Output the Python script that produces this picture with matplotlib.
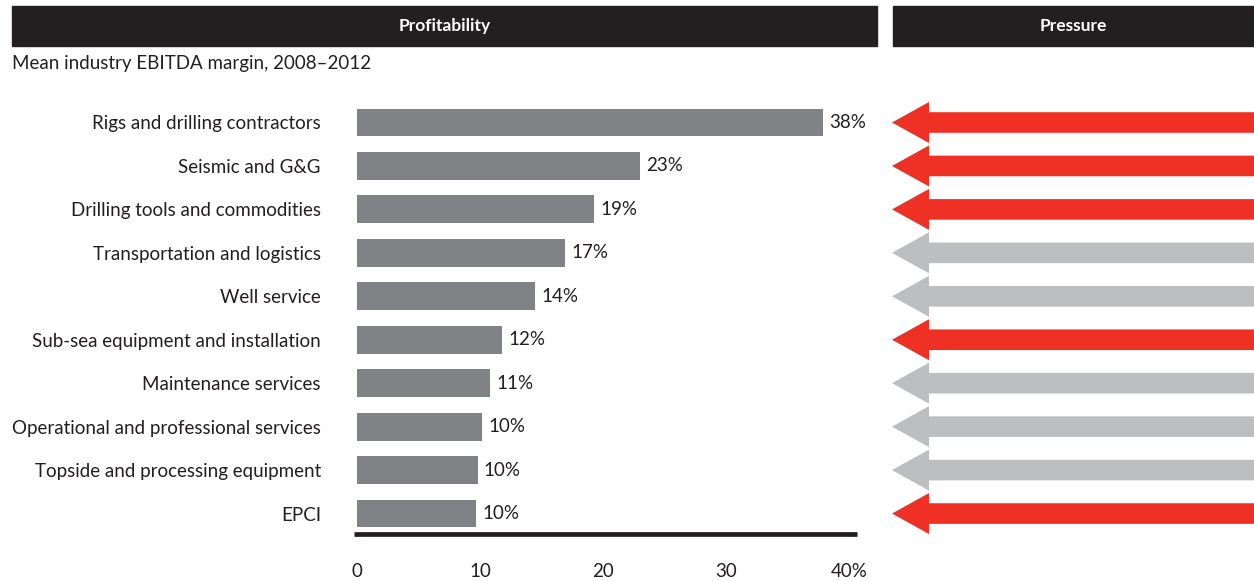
import matplotlib
matplotlib.use("Agg")
import matplotlib.pyplot as plt
from matplotlib.patches import Polygon, Rectangle

# ---- data ----
categories = [
    "Rigs and drilling contractors",
    "Seismic and G&G",
    "Drilling tools and commodities",
    "Transportation and logistics",
    "Well service",
    "Sub-sea equipment and installation",
    "Maintenance services",
    "Operational and professional services",
    "Topside and processing equipment",
    "EPCI",
]
margins = [37.9, 23.0, 19.3, 16.9, 14.5, 11.8, 10.8, 10.2, 9.8, 9.7]
margin_labels = ["38%", "23%", "19%", "17%", "14%", "12%", "11%", "10%", "10%", "10%"]
pressure = ["high", "high", "high", "low", "low", "high", "low", "low", "low", "high"]
x_ticks = [0, 10, 20, 30, 40]
x_tick_labels = ["0", "10", "20", "30", "40%"]

# ---- style ----
W, H = 1254, 581
DARK = "#231F20"
BAR = "#818285"
RED = "#EE3124"
GREY = "#BDBEC0"
FONT = "Lato"
FS = 13.5

fig = plt.figure(figsize=(W / 100, H / 100), dpi=100)

def fx(px):
    return px / W

def fy(py):
    return 1 - py / H

# header boxes
for (x0, x1, label) in [(12, 877, "Profitability"), (893, 1254, "Pressure")]:
    fig.patches.append(Rectangle((fx(x0), fy(46)), fx(x1 - x0), 40 / H,
                                 transform=fig.transFigure, color=DARK, zorder=0))
    fig.text(fx((x0 + x1) / 2), fy(26), label, color="white", fontsize=12.5,
             fontweight="bold", family=FONT, ha="center", va="center")

fig.text(fx(12), fy(64), "Mean industry EBITDA margin, 2008\u20132012", fontsize=FS,
         family=FONT, color=DARK, ha="left", va="center")

# row mapping
row0, step = 122.5, 43.45
ax_top, ax_bot = 100, 534
ylim = ((ax_bot - row0) / step, (ax_top - row0) / step)

# ---- bar axes ----
x0px, x1px = 357, 857
ax = fig.add_axes([fx(x0px), fy(ax_bot), fx(x1px - x0px), (ax_bot - ax_top) / H])
ypos = list(range(len(categories)))
ax.barh(ypos, margins, height=0.64, color=BAR, zorder=2)
ax.set_xlim(0, (x1px - x0px) / 12.3)
ax.set_ylim(*ylim)
for y, v, lab in zip(ypos, margins, margin_labels):
    ax.annotate(lab, (v, y), xytext=(4.5, 0), textcoords="offset points",
                ha="left", va="center", fontsize=FS, family=FONT, color=DARK)
ax.set_yticks(ypos)
ax.set_yticklabels(categories, fontsize=FS, family=FONT, color=DARK)
ax.tick_params(axis="y", length=0, pad=26)
ax.set_xticks(x_ticks)
ax.set_xticklabels(x_tick_labels, fontsize=FS, family=FONT, color=DARK)
ax.tick_params(axis="x", length=0, pad=21)
for s in ["top", "right", "left"]:
    ax.spines[s].set_visible(False)
ax.spines["bottom"].set_linewidth(3.4)
ax.spines["bottom"].set_color(DARK)
ax.spines["bottom"].set_bounds(-0.25, (x1px - x0px) / 12.3)
ax.spines["bottom"].set_capstyle("butt")

# ---- arrow axes ----
ax2 = fig.add_axes([fx(880), fy(ax_bot), fx(W - 880), (ax_bot - ax_top) / H])
ax2.set_xlim(880, W)
ax2.set_ylim(*ylim)
ax2.axis("off")
tip, base = 892, 929
head_half = 20.5 / step
shaft_half = 10.3 / step
for y, p in zip(ypos, pressure):
    col = RED if p == "high" else GREY
    verts = [(tip, y), (base, y - head_half), (base, y - shaft_half),
             (W + 5, y - shaft_half), (W + 5, y + shaft_half),
             (base, y + shaft_half), (base, y + head_half)]
    ax2.add_patch(Polygon(verts, closed=True, color=col, lw=0))

fig.savefig("out.png", dpi=100)
